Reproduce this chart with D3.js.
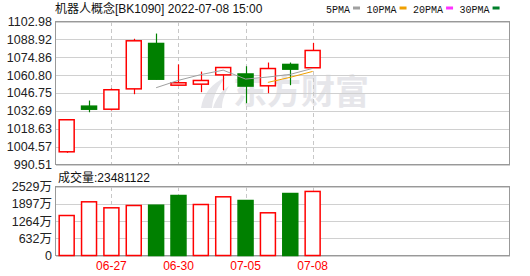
<!DOCTYPE html>
<html>
<head>
<meta charset="utf-8">
<script src="https://cdn.jsdelivr.net/npm/d3@7"></script>
<style>
  body { margin: 0; background: #fff; }
  text { font-family: "Liberation Sans", "Noto Sans CJK SC", sans-serif; }
</style>
</head>
<body>
<div id="draw"></div>
<script>
// trading days
let dates = ['06-23', '06-24', '06-27', '06-28', '06-29', '06-30', '07-01', '07-04', '07-05', '07-06', '07-07', '07-08'];
// OHLC
let open  = [1000.5, 1036.4, 1034.0, 1050.0, 1085.7, 1052.9, 1053.7, 1061.0, 1061.7, 1052.4, 1069.2, 1066.6];
let high  = [1025.9, 1040.8, 1050.3, 1089.4, 1093.5, 1069.2, 1063.6, 1067.0, 1067.8, 1070.7, 1070.7, 1086.2];
let low   = [999.7, 1031.6, 1033.0, 1045.8, 1057.4, 1052.6, 1047.4, 1048.9, 1038.7, 1046.6, 1052.9, 1066.4];
let close = [1025.7, 1034.0, 1049.3, 1087.8, 1057.6, 1054.8, 1056.6, 1066.8, 1052.2, 1066.0, 1065.5, 1080.2];
// volume in 万
let volume = [1466, 1968, 1748, 1833, 1844, 2199, 1869, 2151, 2016, 1565, 2272, 2348];
let ma5  = [null, null, null, null, 1050.9, 1056.7, 1061.2, 1064.7, 1057.7, 1059.3, 1061.4, 1066.1];
let ma10 = [null, null, null, null, null, null, null, null, null, 1055.1, 1059.1, 1063.7];

let priceTicks = ['1102.98', '1088.92', '1074.86', '1060.80', '1046.75', '1032.69', '1018.63', '1004.57', '990.51'];
let volTicks = [2529, 1897, 1264, 632, 0];
let dateTicks = ['06-27', '06-30', '07-05', '07-08'];
let legendNames = ['5PMA', '10PMA', '20PMA', '30PMA'];
let legendColors = ['#a0a0a0', '#f0a000', '#ff33ff', '#007f2a'];

let W = 530, H = 276;
let L = 55.5, R = 509.5;
let pTop = 21.5, pBot = 164.5;
let vTop = 186.5, vBot = 255.5;
let step = 22.36;
let UP = '#ff0000', DOWN = '#008000';

let svg = d3.select('#draw').append('svg').attr('width', W).attr('height', H);

let x = d3.scaleBand().domain(dates)
  .range([L, L + step * dates.length])
  .paddingInner(0.33).paddingOuter(0.165);
let cx = d => x(d) + x.bandwidth() / 2;
let y = d3.scaleLinear().domain([+priceTicks[priceTicks.length - 1], +priceTicks[0]]).range([pBot, pTop]);
let yv = d3.scaleLinear().domain([0, volTicks[0]]).range([vBot, vTop]);

// watermark
let wm = svg.append('g').attr('fill', '#e6e6ea');
wm.append('path').attr('d', 'M201,108 C203,94 212,83 226,77 C218,86 213,96 212,108 Z');
wm.append('path').attr('d', 'M213,108 C216,98 222,90 229,86 C225,93 222,100 222,108 Z');
wm.append('text').attr('x', 233).attr('y', 104)
  .attr('font-size', 34).attr('font-weight', 'bold')
  .style('font-family', '"Noto Sans CJK SC", sans-serif')
  .text('东方财富');

// horizontal grid
let grid = function(scale, vals, top) {
  let g = svg.append('g').attr('transform', 'translate(' + L + ',0)')
    .call(d3.axisLeft(scale).tickValues(vals).tickSize(-(R - L)).tickFormat(''));
  g.select('.domain').remove();
  g.selectAll('line').attr('stroke', '#d0d0d0').attr('shape-rendering', 'crispEdges');
};
grid(y, priceTicks.map(Number));
grid(yv, volTicks);

// dashed date lines
[[pTop, pBot], [vTop, vBot]].forEach(function(p) {
  svg.append('g').selectAll('line').data(dateTicks).enter().append('line')
    .attr('x1', d => Math.round(cx(d)) + 0.5).attr('x2', d => Math.round(cx(d)) + 0.5)
    .attr('y1', p[0]).attr('y2', p[1])
    .attr('stroke', '#c8c8c8').attr('stroke-dasharray', '4,3')
    .attr('shape-rendering', 'crispEdges');
});

// panel borders
[[pTop, pBot], [vTop, vBot]].forEach(function(p) {
  svg.append('rect').attr('x', L).attr('y', p[0]).attr('width', R - L).attr('height', p[1] - p[0])
    .attr('fill', 'none').attr('stroke', '#999').attr('shape-rendering', 'crispEdges');
});

// candles
let idx = d3.range(dates.length);
let cup = i => close[i] >= open[i];
let cg = svg.append('g');
cg.selectAll('line').data(idx).enter().append('line')
  .attr('x1', i => Math.round(cx(dates[i])) + 0.5).attr('x2', i => Math.round(cx(dates[i])) + 0.5)
  .attr('y1', i => y(high[i])).attr('y2', i => y(low[i]))
  .attr('stroke', i => cup(i) ? UP : DOWN).attr('stroke-width', 1.2);
cg.selectAll('rect').data(idx).enter().append('rect')
  .attr('x', i => x(dates[i]))
  .attr('width', x.bandwidth())
  .attr('y', i => y(Math.max(open[i], close[i])))
  .attr('height', i => Math.max(1, Math.abs(y(open[i]) - y(close[i]))))
  .attr('fill', i => cup(i) ? '#fff' : DOWN)
  .attr('stroke', i => cup(i) ? UP : DOWN)
  .attr('stroke-width', 1.5);

// moving averages
let maLine = d3.line()
  .defined(d => d.v != null)
  .x(d => cx(dates[d.i])).y(d => y(d.v));
[[ma5, legendColors[0]], [ma10, legendColors[1]]].forEach(function(m) {
  svg.append('path').datum(m[0].map((v, i) => ({i: i, v: v})))
    .attr('d', maLine).attr('fill', 'none').attr('stroke', m[1]).attr('stroke-width', 1);
});

// volume bars, coloured against previous close
let vup = i => i === 0 ? cup(i) : close[i] >= close[i - 1];
svg.append('g').selectAll('rect').data(idx).enter().append('rect')
  .attr('x', i => x(dates[i]))
  .attr('width', x.bandwidth())
  .attr('y', i => yv(volume[i]))
  .attr('height', i => vBot - yv(volume[i]))
  .attr('fill', i => vup(i) ? '#fff' : DOWN)
  .attr('stroke', i => vup(i) ? UP : DOWN)
  .attr('stroke-width', 1.5);

// y labels
let yLabels = function(scale, vals, fmt) {
  let g = svg.append('g').attr('transform', 'translate(' + (L - 0.5) + ',0)')
    .call(d3.axisLeft(scale).tickValues(vals).tickFormat(fmt).tickSize(0).tickPadding(3));
  g.select('.domain').remove();
  g.selectAll('text').attr('font-size', 12.5).attr('fill', '#222')
    .style('font-family', '"Liberation Sans", "Noto Sans CJK SC", sans-serif');
};
yLabels(y, priceTicks.map(Number), (d, i) => priceTicks[i]);
yLabels(yv, volTicks, d => d === 0 ? '0' : d + '万');

// x labels
let xa = svg.append('g').attr('transform', 'translate(0,' + vBot + ')')
  .call(d3.axisBottom(x).tickValues(dateTicks).tickSize(0).tickPadding(6));
xa.select('.domain').remove();
xa.selectAll('text').attr('font-size', 12).attr('fill', '#ff0000')
  .style('font-family', '"Liberation Sans", sans-serif');

// title + volume caption
svg.append('text').attr('x', 55).attr('y', 13).attr('font-size', 12).attr('fill', '#111')
  .text('机器人概念[BK1090] 2022-07-08 15:00');
svg.append('text').attr('x', 58).attr('y', 182).attr('font-size', 12).attr('fill', '#111')
  .text('成交量:' + '23481122');

// legend
let lx = 326;
legendNames.forEach(function(name, i) {
  let t = svg.append('text').attr('x', lx).attr('y', 12.5).attr('font-size', 10)
    .style('font-family', '"Liberation Mono", monospace').attr('fill', '#111').text(name);
  let tw = t.node().getComputedTextLength();
  svg.append('rect').attr('x', lx + tw + 3).attr('y', 6.5).attr('width', 7).attr('height', 3)
    .attr('fill', legendColors[i]);
  lx += tw + 3 + 7 + 6.5;
});
</script>
</body>
</html>
